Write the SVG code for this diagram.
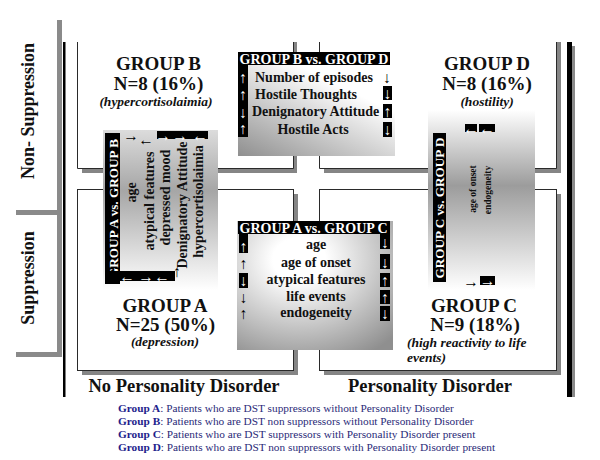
<svg xmlns="http://www.w3.org/2000/svg" width="600" height="460" viewBox="0 0 600 460">
<defs>
<style>
text{font-family:"Liberation Serif","Tinos","DejaVu Serif","Times New Roman",serif;}
.edge{fill:none;stroke:#2a2a2a;stroke-width:1}
.frame{fill:#fff;stroke:#2a2a2a;stroke-width:1}
.shadow{fill:#858585}
.bar{fill:#8a8a8a}
.blk{fill:#000}
.title{font-size:19px;font-weight:bold;fill:#111;text-anchor:middle}
.sub{font-size:13.5px;font-weight:bold;font-style:italic;fill:#111}
.hdr{font-size:14px;font-weight:bold;fill:#fff}
.vhdr{font-size:13.2px;font-weight:bold;fill:#fff;text-anchor:middle}
.item{font-size:14px;font-weight:bold;fill:#111}
.small{font-size:9.5px;font-weight:bold;fill:#111;text-anchor:middle}
.arw{font-size:15.5px;fill:#000;text-anchor:middle;dominant-baseline:central}
.w{fill:#fff}
.axis{font-size:18px;font-weight:bold;fill:#111;text-anchor:middle}
.cat{font-size:18.5px;font-weight:bold;fill:#111;text-anchor:middle}
.leg{font-size:11.3px;fill:#2a2a78}
.lb{font-weight:bold;fill:#1e1e8c}
</style>
<linearGradient id="gBD" x1="0" y1="1" x2="0.55" y2="0.25"><stop offset="0" stop-color="#8f8f8f"/><stop offset="1" stop-color="#fff"/></linearGradient>
<radialGradient id="gAC" cx="0.4" cy="0.3" r="0.85"><stop offset="0.2" stop-color="#fff"/><stop offset="1" stop-color="#8f8f8f"/></radialGradient>
<linearGradient id="gAB" x1="0" y1="0" x2="0" y2="1"><stop offset="0" stop-color="#dcdcdc"/><stop offset="0.38" stop-color="#a6a6a6"/><stop offset="1" stop-color="#fff"/></linearGradient>
<linearGradient id="gCD" x1="0" y1="0" x2="0" y2="1"><stop offset="0" stop-color="#fff"/><stop offset="0.42" stop-color="#9c9c9c"/><stop offset="1" stop-color="#fff"/></linearGradient>
</defs>
<rect width="600" height="460" fill="#fff"/>

<g id="axes">
<rect class="bar" x="57" y="20" width="5" height="337"/>
<rect class="bar" x="16" y="210" width="41" height="5"/>
<rect class="bar" x="16" y="352" width="46" height="5"/>
<rect class="blk" x="63" y="42" width="2.5" height="355"/>
<rect class="blk" x="567" y="42" width="5" height="355"/>
<rect class="bar" x="572" y="46" width="3" height="351"/>
</g>

<g id="axis-labels">
<text class="axis" transform="translate(34,111) rotate(-90)">Non- Suppression</text>
<text class="axis" transform="translate(34,278) rotate(-90)">Suppression</text>
<text class="cat" x="184" y="392">No Personality Disorder</text>
<text class="cat" x="430" y="392">Personality Disorder</text>
</g>

<g id="group-b">
<rect class="shadow" x="82" y="42" width="215" height="131"/>
<rect x="77" y="36" width="216" height="132" fill="#fff"/>
<path class="edge" d="M77.5,42 V168.5 H293.5 V42"/>
<text class="title" x="158.5" y="70">GROUP B</text>
<text class="title" x="158.5" y="90">N=8 (16%)</text>
<text class="sub" x="156" y="105.5" text-anchor="middle">(hypercortisolaimia)</text>
</g>

<g id="group-d">
<rect class="shadow" x="324" y="42" width="237" height="131"/>
<rect x="319" y="36" width="237" height="132" fill="#fff"/>
<path class="edge" d="M319.5,42 V168.5 H556.5 V42"/>
<text class="title" x="487" y="70">GROUP D</text>
<text class="title" x="487" y="90">N=8 (16%)</text>
<text class="sub" x="487" y="105.5" text-anchor="middle">(hostility)</text>
</g>

<g id="group-a">
<rect class="shadow" x="82" y="194" width="216" height="181"/>
<rect class="frame" x="77.5" y="189.5" width="216" height="181"/>
<text class="title" x="165" y="312">GROUP A</text>
<text class="title" x="165.5" y="331">N=25 (50%)</text>
<text class="sub" x="165" y="346" text-anchor="middle">(depression)</text>
</g>

<g id="group-c">
<rect class="shadow" x="324" y="194" width="237" height="181"/>
<rect class="frame" x="319.5" y="189.5" width="237" height="181"/>
<text class="title" x="474" y="312">GROUP C</text>
<text class="title" x="475" y="331">N=9 (18%)</text>
<text class="sub" x="407" y="347">(high reactivity to life</text>
<text class="sub" x="407" y="362">events)</text>
</g>

<g id="b-vs-d">
<rect x="238" y="52" width="157" height="104" fill="url(#gBD)"/>
<rect class="blk" x="238" y="52" width="152" height="13"/>
<rect class="blk" x="238" y="52" width="10" height="85"/>
<text class="hdr" x="239.5" y="63.5">GROUP B vs. GROUP D</text>
<text class="arw w" x="243" y="77">↑</text>
<text class="arw w" x="243" y="94">↑</text>
<text class="arw w" x="243" y="112">↓</text>
<text class="arw w" x="243" y="128">↑</text>
<text class="item" x="255" y="82">Number of episodes</text>
<text class="item" x="255" y="99">Hostile Thoughts</text>
<text class="item" x="252" y="116">Denignatory Attitude</text>
<text class="item" x="313" y="134" text-anchor="middle">Hostile Acts</text>
<text class="arw" x="387" y="77">↓</text>
<rect class="blk" x="383" y="86" width="9" height="14"/>
<text class="arw w" x="387.5" y="93">↓</text>
<rect class="blk" x="383" y="104" width="9" height="14"/>
<text class="arw w" x="387.5" y="111">↑</text>
<rect class="blk" x="383" y="122" width="9" height="15"/>
<text class="arw w" x="387.5" y="129.5">↓</text>
</g>

<g id="a-vs-c">
<rect x="237" y="221" width="156" height="129" fill="url(#gAC)"/>
<rect class="blk" x="238" y="221" width="152" height="13"/>
<rect class="blk" x="239" y="221" width="9" height="32"/>
<text class="hdr" x="239.5" y="232.5">GROUP A vs. GROUP C</text>
<text class="arw w" x="243.5" y="246">↑</text>
<text class="arw" x="243.5" y="263">↑</text>
<rect class="blk" x="239" y="273" width="9" height="15"/>
<text class="arw w" x="243.5" y="280.5">↓</text>
<text class="arw" x="243.5" y="297">↓</text>
<text class="arw" x="243.5" y="313">↑</text>
<text class="item" x="316" y="249" text-anchor="middle">age</text>
<text class="item" x="316" y="267" text-anchor="middle">age of onset</text>
<text class="item" x="316" y="284" text-anchor="middle">atypical features</text>
<text class="item" x="316" y="301" text-anchor="middle">life events</text>
<text class="item" x="316" y="317" text-anchor="middle">endogeneity</text>
<rect class="blk" x="380" y="234" width="10" height="15"/>
<text class="arw w" x="385" y="242">↓</text>
<rect class="blk" x="380" y="254" width="10" height="15"/>
<text class="arw w" x="385" y="262">↓</text>
<rect class="blk" x="380" y="273" width="10" height="14"/>
<text class="arw w" x="385" y="280">↑</text>
<rect class="blk" x="380" y="290" width="10" height="14"/>
<text class="arw w" x="385" y="297">↑</text>
<rect class="blk" x="380" y="306" width="10" height="15"/>
<text class="arw w" x="385" y="313">↓</text>
</g>

<g id="a-vs-b">
<rect x="103" y="130" width="115" height="160" fill="url(#gAB)"/>
<rect class="blk" x="105" y="133" width="15" height="151"/>
<text class="vhdr" transform="translate(117.5,208.5) rotate(-90)">GROUP A vs. GROUP B</text>
<text class="item" transform="translate(136,192.5) rotate(-90)" text-anchor="middle">age</text>
<text class="item" transform="translate(154,201) rotate(-90)" text-anchor="middle">atypical features</text>
<text class="item" transform="translate(170,197.5) rotate(-90)" text-anchor="middle">depressed mood</text>
<text class="item" transform="translate(187,205) rotate(-90)" text-anchor="middle">Denignatory Attitude</text>
<text class="item" transform="translate(203,201.5) rotate(-90)" text-anchor="middle">hypercortisolaimia</text>
<text class="arw" x="131" y="135">→</text>
<text class="arw" x="146" y="139">←</text>
<rect class="blk" x="157" y="131" width="51" height="8"/>
<text class="arw w" x="163" y="135">→</text>
<text class="arw w" x="180" y="135">→</text>
<text class="arw w" x="200" y="135">←</text>
<rect class="blk" x="105" y="271" width="70" height="10"/>
<text class="arw w" x="127" y="276">←</text>
<text class="arw w" x="146" y="276">→</text>
<text class="arw w" x="162" y="276">←</text>
<text class="arw" x="177" y="271">↑</text>
</g>

<g id="c-vs-d">
<rect x="428" y="110" width="107" height="180" fill="url(#gCD)"/>
<rect class="blk" x="433" y="133" width="13" height="149"/>
<text class="vhdr" transform="translate(444,208) rotate(-90)">GROUP C vs. GROUP D</text>
<text class="small" transform="translate(476,189) rotate(-90)">age of onset</text>
<text class="small" transform="translate(491,190) rotate(-90)">endogeneity</text>
<rect class="blk" x="465" y="124" width="12" height="8"/>
<text class="arw w" x="471" y="128">←</text>
<rect class="blk" x="479" y="124" width="16" height="8"/>
<text class="arw w" x="487" y="128">←</text>
<text class="arw" x="471" y="281">→</text>
<rect class="blk" x="480" y="276" width="15" height="9"/>
<text class="arw w" x="487.5" y="280.5">→</text>
</g>

<g id="legend">
<text class="leg" x="118" y="412"><tspan class="lb">Group A</tspan>: Patients who are DST suppressors without Personality Disorder</text>
<text class="leg" x="118" y="425"><tspan class="lb">Group B</tspan>: Patients who are DST non suppressors without Personality Disorder</text>
<text class="leg" x="118" y="438"><tspan class="lb">Group C</tspan>: Patients who are DST suppressors with Personality Disorder present</text>
<text class="leg" x="118" y="451"><tspan class="lb">Group D</tspan>: Patients who are DST non suppressors with Personality Disorder present</text>
</g>

<g id="connectors"></g>
</svg>
